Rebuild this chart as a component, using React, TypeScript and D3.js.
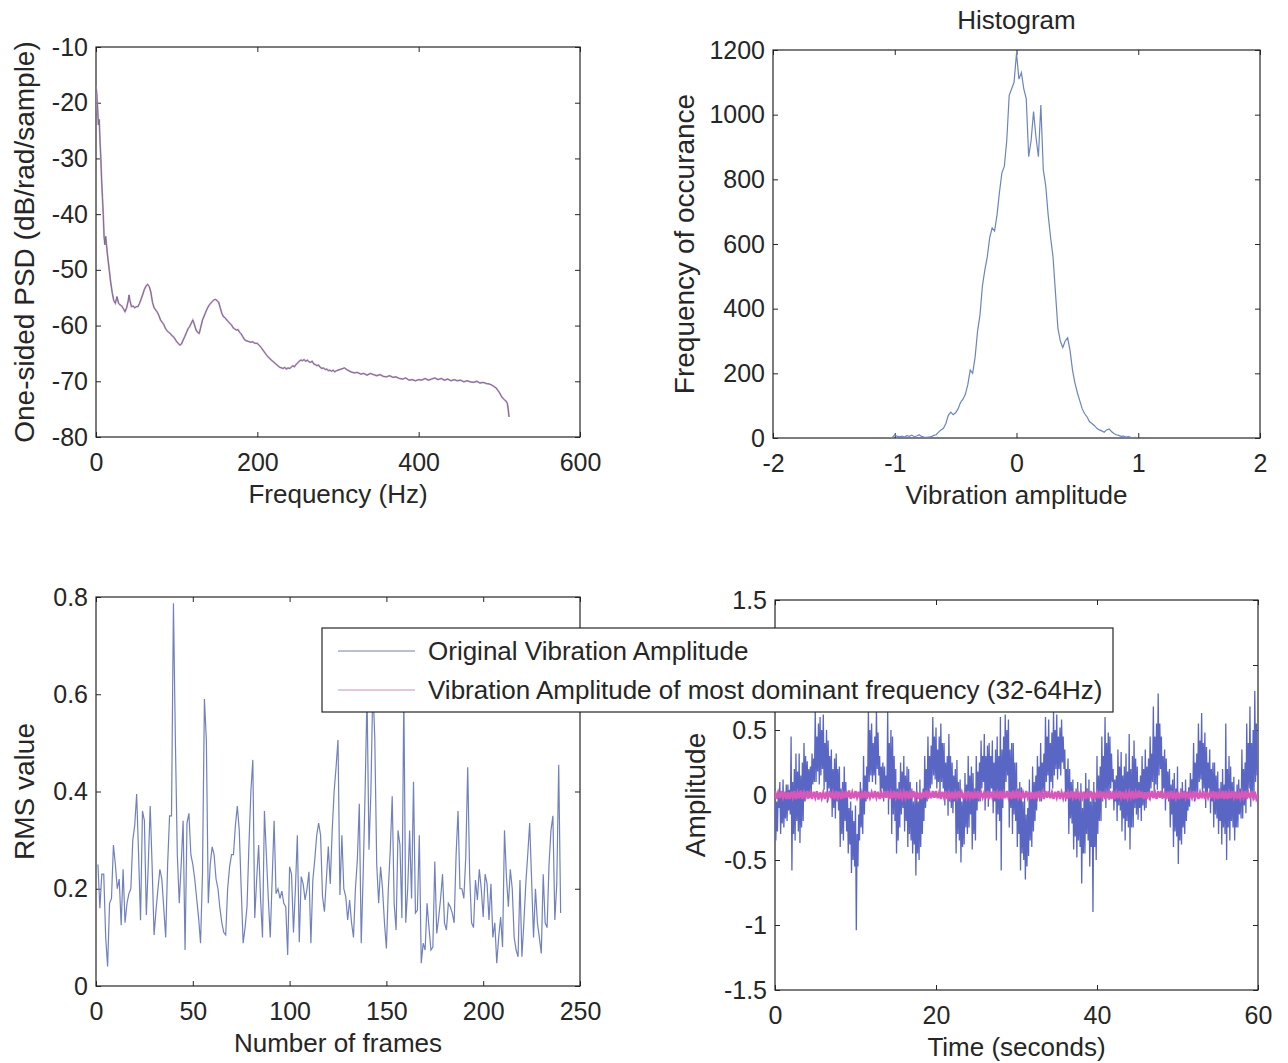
import React, { useEffect, useRef } from 'react';
import * as d3 from 'd3';

// ---- top-left: one-sided PSD ----
const psdFreq = [
  0, 1, 2, 3, 4, 5, 6, 7, 8, 9, 10, 11, 12, 13, 14, 16, 18, 20, 22, 24, 26, 28, 30, 32, 34, 36, 38, 40, 41, 42,
  44, 46, 48, 50, 52, 54, 56, 58, 60, 62, 64, 66, 68, 70, 72, 74, 76, 78, 80, 82, 84, 86, 88, 90, 92, 94, 96, 98,
  100, 102, 104, 106, 108, 110, 112, 114, 116, 118, 120, 122, 124, 126, 128, 130, 132, 134, 136, 138, 140, 142,
  144, 146, 148, 150, 152, 154, 156, 158, 160, 162, 164, 166, 168, 170, 172, 174, 176, 178, 180, 182, 184, 186,
  188, 190, 192, 194, 196, 198, 200, 202, 204, 206, 208, 210, 212, 214, 216, 218, 220, 222, 224, 226, 228, 230,
  232, 234, 236, 238, 240, 242, 244, 246, 248, 250, 252, 254, 256, 258, 260, 262, 264, 266, 268, 270, 272, 274,
  276, 278, 280, 282, 284, 286, 288, 290, 292, 294, 296, 298, 300, 304, 308, 312, 316, 320, 324, 328, 332, 336,
  340, 344, 348, 352, 356, 360, 364, 368, 372, 376, 380, 384, 388, 392, 396, 400, 404, 408, 412, 416, 420, 424,
  428, 432, 436, 440, 444, 448, 452, 456, 460, 464, 468, 472, 476, 480, 484, 488, 492, 496, 500, 503, 506, 508,
  510, 511, 512,
];
const psdDb = [
  -17, -18.5, -21, -24, -23, -27, -30, -34, -37, -40, -44, -45.5, -44, -45.5, -47, -49.5, -52, -54, -55.5, -56,
  -54.8, -56, -56.3, -56.5, -57, -57.5, -56.8, -55.5, -54.5, -55.5,
  -56.6, -56.5, -56.8, -56.6, -56.6, -56, -55.2, -54.4, -53.5, -52.9, -52.6, -53, -54, -55.8, -56.8, -57.2, -57.6,
  -58.2, -59, -59.4, -59.8, -60.5, -60.9, -61.2, -61.4, -61.8, -62, -62.4,
  -62.9, -63.2, -63.5, -63.3, -62.6, -62, -61.3, -60.6, -60.2, -59.6, -59, -59.8, -60.8, -61.2, -61.4, -60.2,
  -59, -58.3, -57.6, -56.9, -56.4, -56,
  -55.7, -55.4, -55.3, -55.5, -55.8, -56.8, -57.8, -58.4, -58.6, -59, -59.3, -59.6, -59.9, -60.4, -60.6, -60.8,
  -60.7, -61.2, -61.5, -62, -62.5, -62.7,
  -62.8, -62.9, -63, -62.9, -63.1, -63.2, -63.2, -63.5, -63.8, -64.2, -64.6, -65, -65.4, -65.7, -66, -66.3, -66.5,
  -66.8, -67, -67.3, -67.5, -67.6,
  -67.7, -67.5, -67.8, -67.6, -67.7, -67.5, -67.2, -67.4, -67, -66.7, -66.4, -66.2, -66.3, -66.1, -66.4, -66.2,
  -66.5, -66.6, -66.4, -66.9, -67, -67.2,
  -67.1, -67.5, -67.7, -67.6, -67.9, -67.8, -68.1, -68, -68.2, -68, -68.3, -68.1, -68, -67.8, -67.6, -68, -68.3,
  -68.5, -68.4, -68.7, -68.6, -68.9,
  -68.6, -68.8, -69, -68.8, -69.1, -69.2, -69, -69.3, -69.2, -69.5, -69.6, -69.4, -69.8, -69.7, -69.9, -69.7,
  -69.8, -69.5, -69.8, -69.6, -69.4, -69.7,
  -69.5, -69.8, -69.6, -69.9, -69.7, -69.9, -69.8, -70.1, -69.9, -70.1, -70.2, -70, -70.3, -70.2, -70.4, -70.5,
  -70.8, -71.2, -72, -72.8, -73.3, -73.5,
  -74, -75, -76.4,
];
const psdXTicks = [0, 200, 400, 600];
const psdYTicks = [-80, -70, -60, -50, -40, -30, -20, -10];

// ---- top-right: histogram (bins from -1.10 to 1.00, width 0.02) ----
const histStart = -1.1;
const histStep = 0.02;
const histCounts = [
  0, 0, 0, 0, 2, 10, 5, 4, 6, 3,
  7, 5, 9, 4, 6, 10, 5, 3, 2, 3,
  4, 8, 10, 18, 25, 30, 45, 70, 80, 72,
  78, 90, 110, 120, 135, 165, 210, 200, 250, 330,
  380, 470, 520, 560, 620, 650, 640, 690, 760, 820,
  840, 920, 1060, 1080, 1100, 1190, 1110, 1130, 1080, 1050,
  870, 920, 1010, 930, 870, 1030, 830, 780, 690, 620,
  560, 450, 340, 300, 280, 300, 310, 270, 210, 170,
  140, 115, 90, 75, 65, 50, 45, 38, 30, 25,
  22, 18, 25, 28, 20, 14, 10, 8, 5, 6,
  3, 4, 2, 1, 2, 0,
];
const histXTicks = [-2, -1, 0, 1, 2];
const histYTicks = [0, 200, 400, 600, 800, 1000, 1200];

// ---- bottom-left: RMS value per frame (frames 1..240) ----
const rmsValues = [
  0.25, 0.16, 0.23, 0.23, 0.10, 0.04, 0.17, 0.18, 0.29, 0.25,
  0.20, 0.22, 0.125, 0.24, 0.13, 0.17, 0.19, 0.20, 0.30, 0.33,
  0.395, 0.27, 0.135, 0.36, 0.34, 0.146, 0.25, 0.37, 0.245, 0.105,
  0.156, 0.20, 0.24, 0.22, 0.16, 0.10, 0.25, 0.35, 0.35, 0.787,
  0.506, 0.27, 0.17, 0.25, 0.34, 0.074, 0.335, 0.355, 0.27, 0.25,
  0.22, 0.18, 0.14, 0.088, 0.23, 0.59, 0.506, 0.17, 0.25, 0.286,
  0.27, 0.22, 0.20, 0.16, 0.13, 0.11, 0.105, 0.20, 0.245, 0.27,
  0.27, 0.33, 0.37, 0.32, 0.20, 0.088, 0.12, 0.163, 0.29, 0.40,
  0.465, 0.14, 0.22, 0.29, 0.18, 0.10, 0.36, 0.27, 0.18, 0.10,
  0.22, 0.34, 0.19, 0.20, 0.18, 0.195, 0.17, 0.163, 0.064, 0.245,
  0.23, 0.11, 0.20, 0.31, 0.09, 0.225, 0.21, 0.177, 0.20, 0.235,
  0.088, 0.218, 0.26, 0.31, 0.335, 0.31, 0.184, 0.153, 0.22, 0.287,
  0.21, 0.32, 0.40, 0.45, 0.506, 0.187, 0.31, 0.20, 0.184, 0.136,
  0.177, 0.13, 0.10, 0.20, 0.26, 0.375, 0.088, 0.23, 0.40, 0.60,
  0.28, 0.40, 0.62, 0.51, 0.25, 0.17, 0.245, 0.20, 0.13, 0.077,
  0.20, 0.28, 0.39, 0.17, 0.115, 0.32, 0.29, 0.14, 0.60, 0.13,
  0.20, 0.32, 0.18, 0.42, 0.15, 0.156, 0.31, 0.047, 0.088, 0.074,
  0.17, 0.12, 0.074, 0.08, 0.256, 0.108, 0.14, 0.18, 0.23, 0.13,
  0.115, 0.17, 0.163, 0.15, 0.13, 0.27, 0.36, 0.20, 0.20, 0.18,
  0.266, 0.45, 0.23, 0.13, 0.12, 0.218, 0.177, 0.24, 0.20, 0.142,
  0.23, 0.21, 0.136, 0.21, 0.10, 0.13, 0.047, 0.10, 0.142, 0.08,
  0.32, 0.225, 0.163, 0.24, 0.20, 0.10, 0.074, 0.06, 0.218, 0.06,
  0.13, 0.21, 0.27, 0.335, 0.218, 0.10, 0.20, 0.13, 0.10, 0.067,
  0.23, 0.13, 0.12, 0.25, 0.32, 0.35, 0.136, 0.21, 0.455, 0.15,
];
const rmsXTicks = [0, 50, 100, 150, 200, 250];
const rmsYTicks = [0, 0.2, 0.4, 0.6, 0.8];

// ---- bottom-right: vibration amplitude, one sample every 0.1 s ----
const vibStep = 0.1;
const vibOriginal = [
  0.05, -0.35, -0.05, -0.28, 0.02, -0.10, 0.10, -0.30, 0.00, -0.22,
  0.12, -0.25, 0.02, -0.18, 0.08, -0.20, 0.08, -0.12, 0.04, -0.15,
  0.45, -0.58, 0.10, -0.30, 0.20, -0.35, 0.32, -0.20, 0.18, -0.28,
  0.32, -0.37, 0.15, -0.25, 0.25, -0.20, 0.40, -0.05, 0.30, 0.00,
  0.26, -0.03, 0.20, 0.02, 0.22, 0.00, 0.32, 0.08, 0.28, 0.10,
  0.65, 0.10, 0.45, 0.18, 0.55, 0.08, 0.60, 0.15, 0.50, 0.20,
  0.62, 0.04, 0.40, 0.10, 0.50, -0.06, 0.42, 0.05, 0.30, 0.00,
  0.35, -0.17, 0.20, -0.10, 0.28, -0.18, 0.32, -0.05, 0.20, -0.12,
  0.22, -0.40, 0.05, -0.30, 0.10, -0.35, 0.22, -0.20, 0.10, -0.28,
  0.02, -0.45, -0.10, -0.38, -0.05, -0.60, -0.12, -0.50, -0.20, -0.55,
  -0.08, -1.04, -0.30, -0.55, -0.15, -0.35, 0.10, -0.25, 0.02, -0.30,
  0.30, -0.15, 0.15, -0.05, 0.22, 0.00, 0.65, 0.10, 0.50, 0.15,
  0.55, 0.10, 0.40, 0.15, 0.45, 0.08, 0.65, 0.20, 0.48, 0.15,
  0.30, -0.02, 0.22, 0.05, 0.25, -0.05, 0.22, 0.02, 0.15, 0.00,
  0.65, -0.15, 0.40, 0.00, 0.50, -0.30, 0.45, -0.15, 0.30, -0.20,
  0.20, -0.45, 0.05, -0.35, 0.10, -0.25, 0.25, -0.15, 0.18, -0.10,
  0.30, -0.28, 0.15, -0.20, 0.22, -0.40, 0.20, -0.30, 0.10, -0.35,
  0.05, -0.45, -0.05, -0.38, 0.00, -0.62, 0.10, -0.45, -0.05, -0.50,
  0.12, -0.40, 0.00, -0.30, 0.05, -0.20, 0.30, -0.10, 0.20, -0.05,
  0.45, 0.00, 0.30, 0.05, 0.38, 0.08, 0.60, 0.15, 0.45, 0.12,
  0.52, 0.05, 0.35, 0.10, 0.45, 0.00, 0.55, 0.10, 0.40, 0.05,
  0.40, -0.08, 0.25, 0.00, 0.30, -0.16, 0.47, -0.05, 0.30, -0.10,
  0.25, -0.14, 0.15, -0.05, 0.20, -0.45, 0.27, -0.30, 0.10, -0.35,
  0.12, -0.52, -0.05, -0.40, 0.00, -0.38, 0.17, -0.25, 0.08, -0.30,
  0.30, -0.25, 0.15, -0.15, 0.22, -0.42, 0.17, -0.30, 0.05, -0.35,
  0.30, -0.12, 0.18, -0.05, 0.25, -0.05, 0.42, 0.05, 0.30, 0.10,
  0.47, -0.12, 0.30, -0.02, 0.38, -0.09, 0.40, 0.00, 0.30, 0.05,
  0.42, -0.14, 0.25, -0.05, 0.35, -0.35, 0.45, -0.15, 0.30, -0.20,
  0.60, -0.58, 0.35, -0.10, 0.45, -0.02, 0.62, 0.10, 0.50, 0.15,
  0.58, -0.25, 0.35, -0.10, 0.40, -0.30, 0.40, -0.15, 0.25, -0.20,
  0.25, -0.40, 0.05, -0.30, 0.10, -0.58, 0.06, -0.45, -0.05, -0.50,
  -0.02, -0.65, -0.15, -0.55, -0.10, -0.47, 0.12, -0.35, 0.00, -0.40,
  0.22, -0.28, 0.10, -0.20, 0.15, -0.12, 0.30, -0.02, 0.22, -0.05,
  0.40, -0.05, 0.25, 0.02, 0.32, 0.00, 0.60, 0.10, 0.45, 0.15,
  0.58, 0.02, 0.40, 0.10, 0.48, 0.05, 0.65, 0.15, 0.50, 0.20,
  0.62, 0.12, 0.45, 0.20, 0.52, 0.15, 0.58, 0.25, 0.45, 0.20,
  0.35, -0.05, 0.20, 0.02, 0.28, -0.30, 0.20, -0.18, 0.10, -0.22,
  0.12, -0.42, 0.00, -0.32, 0.05, -0.48, 0.10, -0.35, 0.00, -0.40,
  0.09, -0.68, -0.10, -0.45, 0.00, -0.45, 0.17, -0.30, 0.05, -0.35,
  0.12, -0.55, -0.05, -0.40, 0.02, -0.90, 0.10, -0.40, -0.05, -0.50,
  0.30, -0.30, 0.15, -0.20, 0.22, -0.20, 0.45, -0.05, 0.30, 0.00,
  0.60, -0.10, 0.40, 0.00, 0.48, -0.04, 0.45, 0.05, 0.32, 0.10,
  0.20, -0.12, 0.12, -0.05, 0.15, -0.20, 0.35, -0.08, 0.22, -0.12,
  0.33, -0.28, 0.15, -0.18, 0.22, -0.35, 0.32, -0.20, 0.18, -0.25,
  0.47, -0.42, 0.20, -0.25, 0.30, -0.25, 0.42, -0.10, 0.28, -0.15,
  0.22, -0.19, 0.10, -0.10, 0.15, -0.20, 0.30, -0.08, 0.20, -0.12,
  0.35, -0.10, 0.22, 0.00, 0.28, -0.04, 0.45, 0.05, 0.32, 0.10,
  0.68, 0.00, 0.45, 0.08, 0.55, 0.04, 0.78, 0.15, 0.55, 0.20,
  0.45, -0.03, 0.30, 0.05, 0.35, -0.12, 0.28, -0.02, 0.18, -0.05,
  0.20, -0.25, 0.08, -0.15, 0.12, -0.40, 0.17, -0.28, 0.05, -0.32,
  0.22, -0.53, 0.00, -0.35, 0.05, -0.38, 0.10, -0.25, 0.00, -0.30,
  0.12, -0.20, 0.02, -0.12, 0.06, -0.09, 0.17, 0.00, 0.12, -0.02,
  0.40, -0.05, 0.25, 0.02, 0.32, 0.00, 0.55, 0.10, 0.42, 0.12,
  0.63, -0.02, 0.40, 0.05, 0.48, -0.10, 0.37, 0.00, 0.25, 0.05,
  0.35, -0.14, 0.20, -0.05, 0.25, -0.25, 0.25, -0.15, 0.15, -0.18,
  0.18, -0.30, 0.05, -0.20, 0.10, -0.38, 0.20, -0.25, 0.08, -0.30,
  0.55, -0.50, 0.20, -0.25, 0.30, -0.35, 0.22, -0.20, 0.10, -0.25,
  0.14, -0.35, 0.02, -0.25, 0.08, -0.25, 0.12, -0.15, 0.05, -0.18,
  0.35, -0.18, 0.20, -0.08, 0.25, -0.14, 0.55, 0.00, 0.40, 0.05,
  0.68, -0.09, 0.40, 0.02, 0.50, -0.04, 0.80, 0.10, 0.55, 0.15,
  0.20,
];
// dominant band (32-64Hz), one sample every 0.2 s
const domStep = 0.2;
const vibDominant = [
  0.03, -0.03, 0.02, -0.025, 0.03, -0.02, 0.025, -0.03, 0.02, -0.03,
  0.025, -0.02, 0.03, -0.03, 0.02, -0.025, 0.035, -0.03, 0.02, -0.02,
  0.03, -0.025, 0.02, -0.03, 0.025, -0.02, 0.03, -0.035, 0.02, -0.025,
  0.02, -0.03, 0.025, -0.02, 0.03, -0.025, 0.02, -0.03, 0.03, -0.02,
  0.025, -0.03, 0.02, -0.025, 0.03, -0.02, 0.035, -0.03, 0.02, -0.025,
  0.03, -0.02, 0.025, -0.03, 0.02, -0.025, 0.03, -0.03, 0.025, -0.02,
  0.02, -0.025, 0.03, -0.02, 0.025, -0.03, 0.02, -0.025, 0.03, -0.02,
  0.03, -0.03, 0.02, -0.025, 0.03, -0.02, 0.025, -0.03, 0.02, -0.025,
  0.025, -0.02, 0.03, -0.03, 0.02, -0.025, 0.03, -0.02, 0.025, -0.03,
  0.02, -0.03, 0.025, -0.02, 0.035, -0.03, 0.02, -0.025, 0.03, -0.02,
  0.03, -0.025, 0.02, -0.03, 0.025, -0.02, 0.03, -0.03, 0.02, -0.025,
  0.025, -0.03, 0.02, -0.02, 0.03, -0.025, 0.02, -0.03, 0.025, -0.02,
  0.03, -0.02, 0.025, -0.03, 0.02, -0.025, 0.03, -0.03, 0.02, -0.02,
  0.02, -0.025, 0.03, -0.03, 0.025, -0.02, 0.03, -0.025, 0.02, -0.03,
  0.03, -0.03, 0.02, -0.025, 0.03, -0.02, 0.025, -0.03, 0.035, -0.025,
  0.025, -0.02, 0.03, -0.03, 0.02, -0.025, 0.03, -0.02, 0.025, -0.03,
  0.02, -0.03, 0.025, -0.02, 0.03, -0.025, 0.02, -0.03, 0.03, -0.02,
  0.03, -0.025, 0.02, -0.03, 0.025, -0.02, 0.03, -0.03, 0.02, -0.025,
  0.025, -0.03, 0.02, -0.025, 0.03, -0.02, 0.025, -0.03, 0.02, -0.02,
  0.03, -0.02, 0.025, -0.03, 0.02, -0.025, 0.03, -0.03, 0.025, -0.02,
  0.02, -0.025, 0.03, -0.02, 0.025, -0.03, 0.02, -0.025, 0.03, -0.03,
  0.03, -0.03, 0.02, -0.025, 0.03, -0.02, 0.025, -0.03, 0.02, -0.025,
  0.025, -0.02, 0.03, -0.03, 0.02, -0.025, 0.035, -0.02, 0.025, -0.03,
  0.02, -0.03, 0.025, -0.02, 0.03, -0.025, 0.02, -0.03, 0.03, -0.02,
  0.03, -0.025, 0.02, -0.03, 0.025, -0.02, 0.03, -0.03, 0.02, -0.025,
  0.025, -0.03, 0.02, -0.025, 0.03, -0.02, 0.025, -0.03, 0.02, -0.02,
  0.03, -0.02, 0.025, -0.03, 0.02, -0.025, 0.03, -0.03, 0.025, -0.02,
  0.02, -0.025, 0.03, -0.02, 0.025, -0.03, 0.02, -0.025, 0.03, -0.03,
  0.03, -0.03, 0.02, -0.025, 0.03, -0.02, 0.025, -0.03, 0.02, -0.025,
  0.025, -0.02, 0.03, -0.03, 0.02, -0.025, 0.03, -0.02, 0.025, -0.03,
  0.0,
];
const vibXTicks = [0, 20, 40, 60];
const vibYTicks = [-1.5, -1, -0.5, 0, 0.5, 1, 1.5];
// the "1" label sits under the legend box in the original
const vibHiddenLabels = [1];

const legendLabels = [
  'Original Vibration Amplitude',
  'Vibration Amplitude of most dominant frequency (32-64Hz)',
];

const FONT = "'Liberation Sans', Arial, Helvetica, sans-serif";
const INK = '#262626';
const TICK_FS = 25;
const LABEL_FS = 26;
const YLABEL_FS = 28;

function drawPanel(svg, p) {
  const x = d3.scaleLinear().domain(p.xDomain).range([p.left, p.right]);
  const y = d3.scaleLinear().domain(p.yDomain).range([p.bottom, p.top]);
  const g = svg.append('g');
  const fmt = d => String(d);
  const hidden = p.hiddenY || [];
  const yFmt = d => (hidden.includes(d) ? '' : String(d));

  const style = sel => {
    sel.select('.domain').remove();
    sel.selectAll('line').attr('stroke', INK).attr('stroke-width', 1);
    sel.selectAll('text')
      .attr('fill', INK)
      .style('font-family', FONT)
      .style('font-size', TICK_FS + 'px');
  };

  g.append('g').attr('transform', `translate(0,${p.bottom})`)
    .call(d3.axisBottom(x).tickValues(p.xTicks).tickFormat(fmt).tickSize(-5).tickPadding(16))
    .call(style);
  g.append('g').attr('transform', `translate(0,${p.top})`)
    .call(d3.axisTop(x).tickValues(p.xTicks).tickFormat(() => '').tickSize(-5))
    .call(style);
  g.append('g').attr('transform', `translate(${p.left},0)`)
    .call(d3.axisLeft(y).tickValues(p.yTicks).tickFormat(yFmt).tickSize(-5).tickPadding(8))
    .call(style);
  g.append('g').attr('transform', `translate(${p.right},0)`)
    .call(d3.axisRight(y).tickValues(p.yTicks).tickFormat(() => '').tickSize(-5))
    .call(style);

  g.append('rect')
    .attr('x', p.left).attr('y', p.top)
    .attr('width', p.right - p.left).attr('height', p.bottom - p.top)
    .attr('fill', 'none').attr('stroke', INK).attr('stroke-width', 1.2);

  g.append('text')
    .attr('x', (p.left + p.right) / 2).attr('y', p.bottom + 66)
    .attr('text-anchor', 'middle').attr('fill', INK)
    .style('font-family', FONT).style('font-size', LABEL_FS + 'px')
    .text(p.xLabel);

  g.append('text')
    .attr('transform', `translate(${p.yLabelX},${(p.top + p.bottom) / 2}) rotate(-90)`)
    .attr('text-anchor', 'middle').attr('fill', INK)
    .style('font-family', FONT).style('font-size', YLABEL_FS + 'px')
    .text(p.yLabel);

  if (p.title) {
    g.append('text')
      .attr('x', (p.left + p.right) / 2).attr('y', p.top - 21)
      .attr('text-anchor', 'middle').attr('fill', INK)
      .style('font-family', FONT).style('font-size', LABEL_FS + 'px')
      .text(p.title);
  }

  svg.append('clipPath').attr('id', p.id)
    .append('rect')
    .attr('x', p.left).attr('y', p.top)
    .attr('width', p.right - p.left).attr('height', p.bottom - p.top);

  const plot = svg.append('g').attr('clip-path', `url(#${p.id})`);
  return { x, y, plot };
}

const App = () => {
  const svgRef = useRef(null);

  useEffect(() => {
    document.body.style.margin = '0';
    const svg = d3.select(svgRef.current);
    svg.selectAll('*').remove();

    svg.append('rect').attr('width', 1288).attr('height', 1063).attr('fill', '#fff');

    // PSD
    const a = drawPanel(svg, {
      id: 'clip-psd', left: 96, right: 580, top: 47, bottom: 437,
      xDomain: [0, 600], yDomain: [-80, -10], xTicks: psdXTicks, yTicks: psdYTicks,
      xLabel: 'Frequency (Hz)', yLabel: 'One-sided PSD (dB/rad/sample)', yLabelX: 34,
    });
    const psdLine = d3.line<number>().x((d, i) => a.x(psdFreq[i])).y(d => a.y(d));
    a.plot.append('path').attr('d', psdLine(psdDb))
      .attr('fill', 'none').attr('stroke', '#c9a3cb').attr('stroke-width', 1.8);
    a.plot.append('path').attr('d', psdLine(psdDb))
      .attr('fill', 'none').attr('stroke', '#6f6888').attr('stroke-width', 0.9);

    // Histogram
    const b = drawPanel(svg, {
      id: 'clip-hist', left: 773, right: 1260, top: 50, bottom: 438,
      xDomain: [-2, 2], yDomain: [0, 1200], xTicks: histXTicks, yTicks: histYTicks,
      xLabel: 'Vibration amplitude', yLabel: 'Frequency of occurance', yLabelX: 694,
      title: 'Histogram',
    });
    const histLine = d3.line<number>()
      .x((d, i) => b.x(histStart + i * histStep)).y(d => b.y(d));
    b.plot.append('path').attr('d', histLine(histCounts))
      .attr('fill', 'none').attr('stroke', '#6c84be').attr('stroke-width', 1.2);

    // RMS
    const c = drawPanel(svg, {
      id: 'clip-rms', left: 96, right: 580, top: 597, bottom: 986,
      xDomain: [0, 250], yDomain: [0, 0.8], xTicks: rmsXTicks, yTicks: rmsYTicks,
      xLabel: 'Number of frames', yLabel: 'RMS value', yLabelX: 34,
    });
    const rmsLine = d3.line<number>().x((d, i) => c.x(i + 1)).y(d => c.y(d));
    c.plot.append('path').attr('d', rmsLine(rmsValues))
      .attr('fill', 'none').attr('stroke', '#7181bd').attr('stroke-width', 1.2);

    // Time series
    const e = drawPanel(svg, {
      id: 'clip-vib', left: 775, right: 1258, top: 600, bottom: 990,
      xDomain: [0, 60], yDomain: [-1.5, 1.5], xTicks: vibXTicks, yTicks: vibYTicks,
      hiddenY: vibHiddenLabels,
      xLabel: 'Time (seconds)', yLabel: 'Amplitude', yLabelX: 705,
    });
    const vibLine = d3.line<number>().x((d, i) => e.x(i * vibStep)).y(d => e.y(d));
    e.plot.append('path').attr('d', vibLine(vibOriginal))
      .attr('fill', 'none').attr('stroke', '#5a66c4').attr('stroke-width', 1.3);
    const domLine = d3.line<number>().x((d, i) => e.x(i * domStep)).y(d => e.y(d));
    e.plot.append('path').attr('d', domLine(vibDominant))
      .attr('fill', 'none').attr('stroke', '#d658b8').attr('stroke-width', 2.4);

    // Legend
    const lg = svg.append('g');
    lg.append('rect').attr('x', 322).attr('y', 628).attr('width', 791).attr('height', 84)
      .attr('fill', '#fff').attr('stroke', INK).attr('stroke-width', 1.2);
    const legendColors = ['#7a80a8', '#c58fc5'];
    legendLabels.forEach((lab, i) => {
      const yy = 651 + i * 39;
      lg.append('line').attr('x1', 338).attr('x2', 415).attr('y1', yy).attr('y2', yy)
        .attr('stroke', legendColors[i]).attr('stroke-width', 1.2);
      lg.append('text').attr('x', 428).attr('y', yy + 9).attr('fill', INK)
        .style('font-family', FONT).style('font-size', LABEL_FS + 'px')
        .text(lab);
    });
  }, []);

  return <svg ref={svgRef} width={1288} height={1063} style={{ display: 'block' }} />;
};

export default App;
